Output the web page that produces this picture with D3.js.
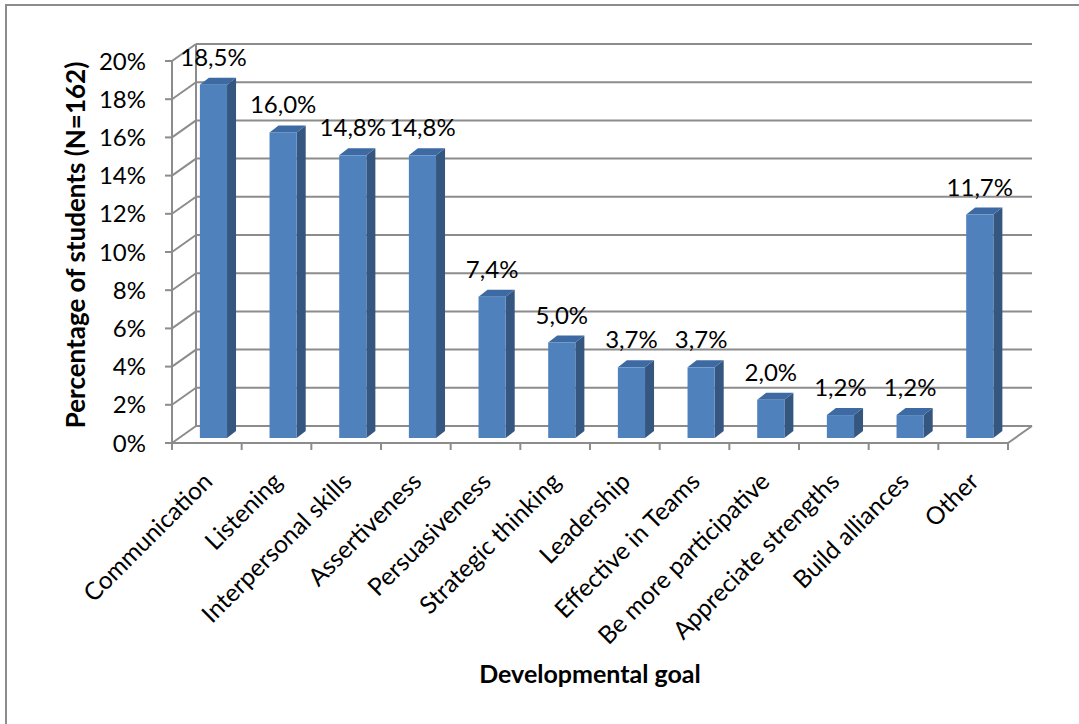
<!DOCTYPE html>
<html>
<head>
<meta charset="utf-8">
<script src="https://cdn.jsdelivr.net/npm/d3@7"></script>
<style>
  html, body { margin: 0; padding: 0; background: #fff; }
  svg { display: block; }
  text { font-family: Lato, "Open Sans", sans-serif; fill: #000; }
</style>
</head>
<body>
<svg id="chart" width="1079" height="724"></svg>
<script>
const categories = ["Communication", "Listening", "Interpersonal skills", "Assertiveness",
  "Persuasiveness", "Strategic thinking", "Leadership", "Effective in Teams",
  "Be more participative", "Appreciate strengths", "Build alliances", "Other"];
const values = [18.5, 16.0, 14.8, 14.8, 7.4, 5.0, 3.7, 3.7, 2.0, 1.2, 1.2, 11.7];
const valueLabels = ["18,5%", "16,0%", "14,8%", "14,8%", "7,4%", "5,0%", "3,7%", "3,7%", "2,0%", "1,2%", "1,2%", "11,7%"];
const yTicks = [0, 2, 4, 6, 8, 10, 12, 14, 16, 18, 20];
const yTickLabels = ["0%", "2%", "4%", "6%", "8%", "10%", "12%", "14%", "16%", "18%", "20%"];
const yTitle = "Percentage of students (N=162)";
const xTitle = "Developmental goal";

const svg = d3.select("#chart");

// outer border
svg.append("rect").attr("x", 6).attr("y", 5).attr("width", 1100).attr("height", 800)
  .attr("fill", "none").attr("stroke", "#8c8c8c").attr("stroke-width", 2);

const x = d3.scaleBand().domain(categories).range([172, 1008]).padding(0);
const y = d3.scaleLinear().domain([0, 20]).range([443, 61]);
const DX = 24, DY = -17; // wall depth
const gridColor = "#8c8c8c";

const g = svg.append("g");

// back wall gridlines
g.selectAll(".grid").data(yTicks).join("line")
  .attr("x1", 172 + DX).attr("x2", 1008 + DX)
  .attr("y1", d => y(d) + DY).attr("y2", d => y(d) + DY)
  .attr("stroke", gridColor).attr("stroke-width", 2);
// side wall diagonals
g.selectAll(".diag").data(yTicks).join("line")
  .attr("x1", 172).attr("x2", 172 + DX)
  .attr("y1", d => y(d)).attr("y2", d => y(d) + DY)
  .attr("stroke", gridColor).attr("stroke-width", 2);
// back wall left edge
g.append("line").attr("x1", 172 + DX).attr("x2", 172 + DX)
  .attr("y1", y(20) + DY).attr("y2", y(0) + DY)
  .attr("stroke", gridColor).attr("stroke-width", 2);
// floor right edge
g.append("line").attr("x1", 1008).attr("x2", 1008 + DX)
  .attr("y1", y(0)).attr("y2", y(0) + DY)
  .attr("stroke", gridColor).attr("stroke-width", 2);

// bars
const bw = x.bandwidth();
const fOff = 0.40 * bw, fW = 0.39 * bw, bDX = 9, bDY = -7, bLift = 5;
const bars = g.selectAll(".bar").data(categories).join("g");
bars.each(function(c, i) {
  const sel = d3.select(this);
  const x0 = x(c) + fOff, x1 = x0 + fW;
  const yb = y(0) - bLift, yt = y(values[i]) - bLift;
  sel.append("path")
    .attr("d", `M${x1},${yb} L${x1 + bDX},${yb + bDY} L${x1 + bDX},${yt + bDY} L${x1},${yt} Z`)
    .attr("fill", "#34567f");
  sel.append("path")
    .attr("d", `M${x0},${yt} L${x0 + bDX},${yt + bDY} L${x1 + bDX},${yt + bDY} L${x1},${yt} Z`)
    .attr("fill", "#3e6aa3");
  sel.append("rect").attr("x", x0).attr("y", yt).attr("width", fW).attr("height", yb - yt)
    .attr("fill", "#4f81bd");
});

// y axis line and ticks
g.append("line").attr("x1", 172).attr("x2", 172).attr("y1", y(20)).attr("y2", y(0))
  .attr("stroke", gridColor).attr("stroke-width", 2);
g.selectAll(".ytick").data(yTicks).join("line")
  .attr("x1", 165).attr("x2", 172).attr("y1", d => y(d)).attr("y2", d => y(d))
  .attr("stroke", gridColor).attr("stroke-width", 2);
g.selectAll(".ylab").data(yTicks).join("text")
  .attr("x", 146).attr("y", d => y(d)).attr("dy", "0.36em")
  .attr("text-anchor", "end").style("font-size", "24px")
  .text((d, i) => yTickLabels[i]);

// x axis line and ticks
g.append("line").attr("x1", 172).attr("x2", 1008).attr("y1", y(0)).attr("y2", y(0))
  .attr("stroke", gridColor).attr("stroke-width", 2);
const bounds = categories.map(c => x(c)).concat([1008]);
g.selectAll(".xtick").data(bounds).join("line")
  .attr("x1", d => d).attr("x2", d => d).attr("y1", y(0)).attr("y2", y(0) + 7)
  .attr("stroke", gridColor).attr("stroke-width", 2);

// category labels
g.selectAll(".xlab").data(categories).join("text")
  .attr("transform", c => `translate(${x(c) + bw / 2 + 1},${y(0) + 34}) rotate(-45)`)
  .attr("text-anchor", "end").attr("dy", "0.35em").style("font-size", "24.5px")
  .text(c => c);

// value labels
g.selectAll(".vlab").data(categories).join("text")
  .attr("x", c => x(c) + fOff + fW / 2)
  .attr("y", (c, i) => y(values[i]) - bLift - 19)
  .attr("text-anchor", "middle").style("font-size", "24px")
  .text((c, i) => valueLabels[i]);

// titles
svg.append("text").attr("transform", "translate(85,245) rotate(-90)")
  .attr("text-anchor", "middle").style("font-size", "26px").style("font-weight", "bold")
  .text(yTitle);
svg.append("text").attr("x", 590).attr("y", 683)
  .attr("text-anchor", "middle").style("font-size", "25px").style("font-weight", "bold")
  .text(xTitle);
</script>
</body>
</html>
